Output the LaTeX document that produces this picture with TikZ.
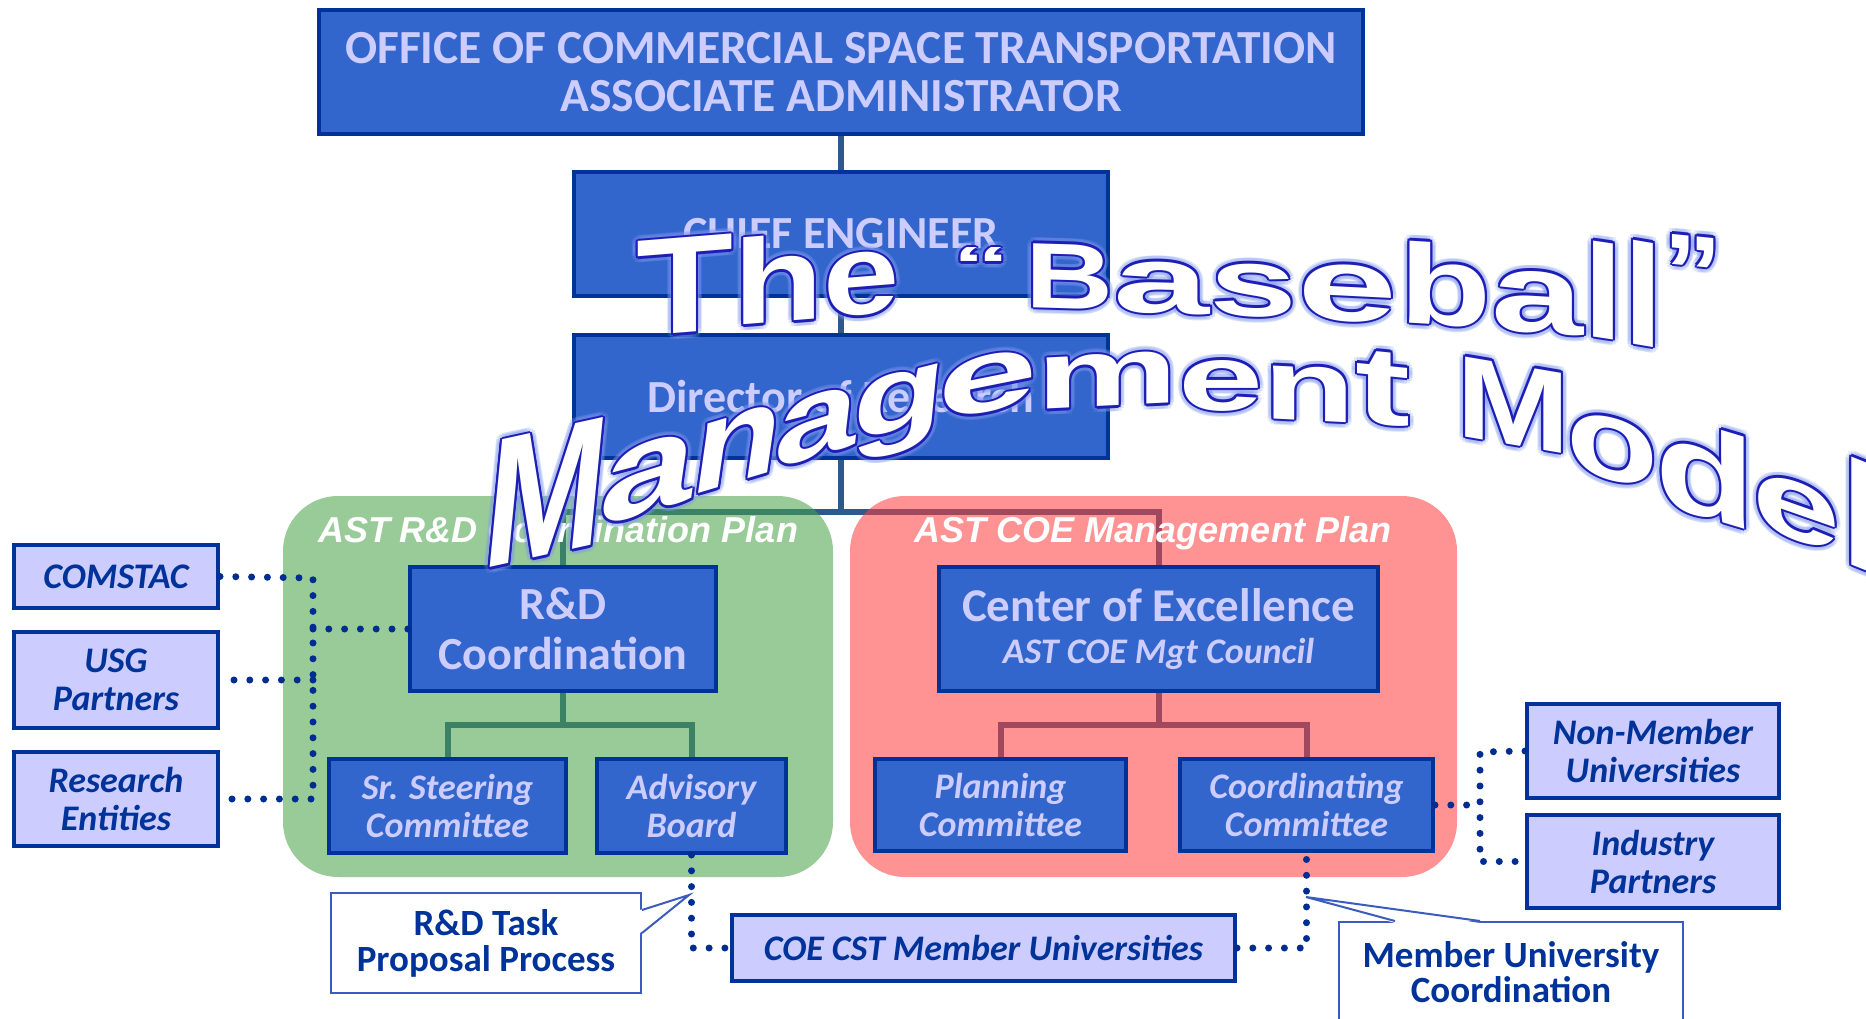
\documentclass[tikz,border=0pt]{standalone}
\usepackage{fontspec}
\usepackage{graphicx}
\setmainfont{Carlito}
\newfontfamily\arialfont{Liberation Sans}
\usetikzlibrary{calc}

\definecolor{boxblue}{HTML}{3366CC}
\definecolor{navy}{HTML}{003399}
\definecolor{lavender}{HTML}{CCCCFF}
\definecolor{dotblue}{HTML}{002D8F}
\definecolor{calblue}{HTML}{3B5BC0}
\definecolor{treeblue}{HTML}{2D5A8C}
\definecolor{zonegreen}{HTML}{46A246}
\definecolor{zonered}{HTML}{FF3A3A}
\definecolor{lineblue}{HTML}{1E1EB4}
\definecolor{glowblue}{HTML}{7F98F0}

\pgfdeclarelayer{lines}
\pgfdeclarelayer{zones}
\pgfsetlayers{lines,zones,main}

\tikzset{
  darkbox/.style={draw=navy, line width=4pt, fill=boxblue, text=lavender, align=center, inner sep=0pt, font=\bfseries\fontsize{46}{48}\selectfont},
  smallbox/.style={darkbox, font=\bfseries\itshape\fontsize{36}{38}\selectfont},
  lightbox/.style={draw=navy, line width=4pt, fill=lavender, text=navy, align=center, inner sep=0pt, font=\bfseries\itshape\fontsize{36}{38}\selectfont},
  callout/.style={draw=calblue, line width=2pt, fill=white, text=navy, align=center, inner sep=0pt, font=\bfseries\fontsize{37}{36}\selectfont},
  calline/.style={draw=calblue, line width=2pt},
  tree/.style={draw=treeblue, line width=6pt},
  dotlink/.style={draw=dotblue, line width=7pt, line cap=round, dash pattern=on 0pt off 15.8pt},
  zonetitle/.style={text=white, anchor=base, inner sep=0pt, font=\arialfont\bfseries\itshape\fontsize{36}{36}\selectfont},
  waglow/.style={inner sep=0pt, text=glowblue, text opacity=0.22, font=\arialfont\bfseries\fontsize{100}{100}\selectfont},
  waline/.style={inner sep=0pt, text=lineblue, font=\arialfont\bfseries\fontsize{100}{100}\selectfont},
  wafill/.style={inner sep=0pt, text=white, font=\arialfont\bfseries\fontsize{100}{100}\selectfont}
}

% letters of the title: left x / baseline y / yslant / xslant / width / height / letter
\newcommand\walist{%
636/337/0.08/0/97/95/T,
733/326/0.08/0/90/87/h,
823/318/0.08/0/76/62/e,
952/282/0/0/58/34/“,
1025/307/-0.03/0/88/64/B,
1113/311/-0.035/0/96/51/a,
1209/314/-0.04/0/88/52/s,
1297/318/-0.05/0/100/56/e,
1399/322/-0.06/0/92/82/b,
1491/329/-0.07/0/92/61/a,
1583/335/-0.15/0/40/96/l,
1623/342/-0.17/0/40/104/l,
1663/306/-0.1/0/59/73/”,
480/570/0.22/0.1/120/125/M,
596/528/0.3/0.15/94/70/a,
688/497/0.3/0.15/88/68/n,
772/470/0.3/0.12/82/62/a,
850/443/0.25/0.1/92/58/g,
936/422/0.2/0.05/100/56/e,
1036/410/0.05/0/142/52/m,
1178/410/0/0/85/50/e,
1263/418/-0.05/0/92/54/n,
1355/421/-0.1/0/55/72/t,
1456/435/-0.17/0/114/80/M,
1566/468/-0.25/0/92/62/o,
1655/502/-0.3/0/100/92/d,
1752/524/-0.35/0/88/58/e,
1840/560/-0.4/0/45/108/l}

% one layer of the title: style, offset radius, angles
\newcommand\wordart[3]{%
  \foreach \lx/\ly/\lys/\lxs/\lw/\lh/\lc [count=\i] in \walist {
    \foreach \a in {#3} {
      \node[#1, anchor=base west, yslant=\lys, xslant=\lxs] (#1-\i-\a) at ($(\lx,\ly)+(\a:#2)$) {\resizebox{\lw pt}{\lh pt}{\lc}};
    }
  }
}

\begin{document}
\begin{tikzpicture}[x=1pt, y=-1pt]
    \useasboundingbox (0,0) rectangle (1866,1019);

    % Chain of command
    \node[darkbox, minimum width=1044pt, minimum height=124pt, font=\bfseries\fontsize{47.5}{48}\selectfont] (office) at (841,72) {OFFICE OF COMMERCIAL SPACE TRANSPORTATION\\ASSOCIATE ADMINISTRATOR};
    \node[darkbox, minimum width=534pt, minimum height=124pt] (chief) at (841,234) {CHIEF ENGINEER};
    \node[darkbox, minimum width=534pt, minimum height=123pt] (director) at (841,396.5) {Director of Research};

    % R&D side
    \node[darkbox, minimum width=306pt, minimum height=124pt, font=\bfseries\fontsize{46}{50}\selectfont] (rdc) at (563,629) {R\&D\\Coordination};
    \node[smallbox, minimum width=237pt, minimum height=94pt] (sr) at (447.5,806) {Sr. Steering\\Committee};
    \node[smallbox, minimum width=189pt, minimum height=94pt] (adv) at (691.5,806) {Advisory\\Board};

    % COE side
    \node[darkbox, minimum width=439pt, minimum height=124pt, font=\bfseries\fontsize{47}{42}\selectfont] (coe) at (1158.5,629) {Center of Excellence\\{\itshape\fontsize{36}{38}\selectfont AST COE Mgt Council}};
    \node[smallbox, minimum width=251pt, minimum height=92pt] (plan) at (1000.5,805) {Planning\\Committee};
    \node[smallbox, minimum width=253pt, minimum height=92pt] (coord) at (1306.5,805) {Coordinating\\Committee};

    % Partners
    \node[lightbox, minimum width=204pt, minimum height=63pt] (comstac) at (116,576.5) {COMSTAC};
    \node[lightbox, minimum width=204pt, minimum height=96pt] (usg) at (116,680) {USG\\Partners};
    \node[lightbox, minimum width=204pt, minimum height=94pt] (research) at (116,799) {Research\\Entities};
    \node[lightbox, minimum width=252pt, minimum height=94pt] (nonmember) at (1653,751) {Non-Member\\Universities};
    \node[lightbox, minimum width=252pt, minimum height=93pt] (industry) at (1653,861.5) {Industry\\Partners};
    \node[lightbox, minimum width=503pt, minimum height=66pt] (coecst) at (983.5,948) {COE CST Member Universities};

    % Tree lines
    \coordinate (hub) at (841,512);
    \coordinate (rdfork) at (563,725);
    \coordinate (coefork) at (1158.5,725);
    \begin{pgfonlayer}{lines}
    \fill[white] (0,0) rectangle (1866,1019);
    \draw[tree] (office) -- (chief);
    \draw[tree] (chief) -- (director);
    \draw[tree] (director.south) -- (hub);
    \draw[tree] (rdc.north) -- (rdc.north |- hub) -- (coe.north |- hub) -- (coe.north);
    \draw[tree] (rdc.south) -- (rdfork);
    \draw[tree] (sr.north) -- (sr.north |- rdfork) -- (adv.north |- rdfork) -- (adv.north);
    \draw[tree] (coe.south) -- (coefork);
    \draw[tree] (plan.north) -- (plan.north |- coefork) -- (coord.north |- coefork) -- (coord.north);
    \end{pgfonlayer}

    % Plans
    \begin{pgfonlayer}{zones}
    \fill[zonegreen, fill opacity=0.55, rounded corners=55pt] (283,496) rectangle (833,877);
    \fill[zonered, fill opacity=0.55, rounded corners=55pt] (850,496) rectangle (1457,877);
    \node[zonetitle] (rdplan) at (558,542) {AST R\&D Coordination Plan};
    \node[zonetitle] (coeplan) at (1153,542) {AST COE Management Plan};
    \end{pgfonlayer}

    % Dotted links
    \coordinate (lspine) at (313,578);
    \coordinate (rspine) at (1480,752);
    \draw[dotlink] (comstac.east) -- (lspine) -- (lspine |- research.east) -- (research.east);
    \draw[dotlink] ([xshift=14pt]usg.east) -- (lspine |- usg.east);
    \draw[dotlink] (lspine |- rdc.west) -- (rdc.west);
    \draw[dotlink] (adv.south) -- (adv.south |- coecst.west) -- (coecst.west);
    \draw[dotlink] (coecst.east) -- (coord.south |- coecst.east) -- (coord.south);
    \draw[dotlink] (coord.east) -- (rspine |- coord.east);
    \draw[dotlink] (nonmember.west) -- (rspine) -- (rspine |- industry.west) -- (industry.west);

    % Callouts
    \node[callout, minimum width=310pt, minimum height=100pt] (task) at (486,943) {R\&D Task\\Proposal Process};
    \coordinate (tasktip) at (689,895);
    \fill[white] ([xshift=-2pt,yshift=33pt]task.east) -- (tasktip) -- ([xshift=-2pt,yshift=10pt]task.east) -- cycle;
    \draw[calline] ([yshift=33pt]task.east) -- (tasktip) -- ([yshift=10pt]task.east);

    \node[callout, minimum width=344pt, minimum height=100pt, font=\bfseries\fontsize{37}{35}\selectfont] (member) at (1511,972) {Member University\\Coordination};
    \coordinate (membertip) at (1306,897);
    \fill[white] ([xshift=-116pt,yshift=-2pt]member.north) -- (membertip) -- ([xshift=-31pt,yshift=-2pt]member.north) -- cycle;
    \draw[calline] ([xshift=-116pt]member.north) -- (membertip) -- ([xshift=-31pt]member.north);

    % Title
    \wordart{waglow}{6}{0,30,...,330}
    \wordart{waline}{2.2}{0,30,...,330}
    \wordart{wafill}{0}{0}

\end{tikzpicture}
\end{document}
